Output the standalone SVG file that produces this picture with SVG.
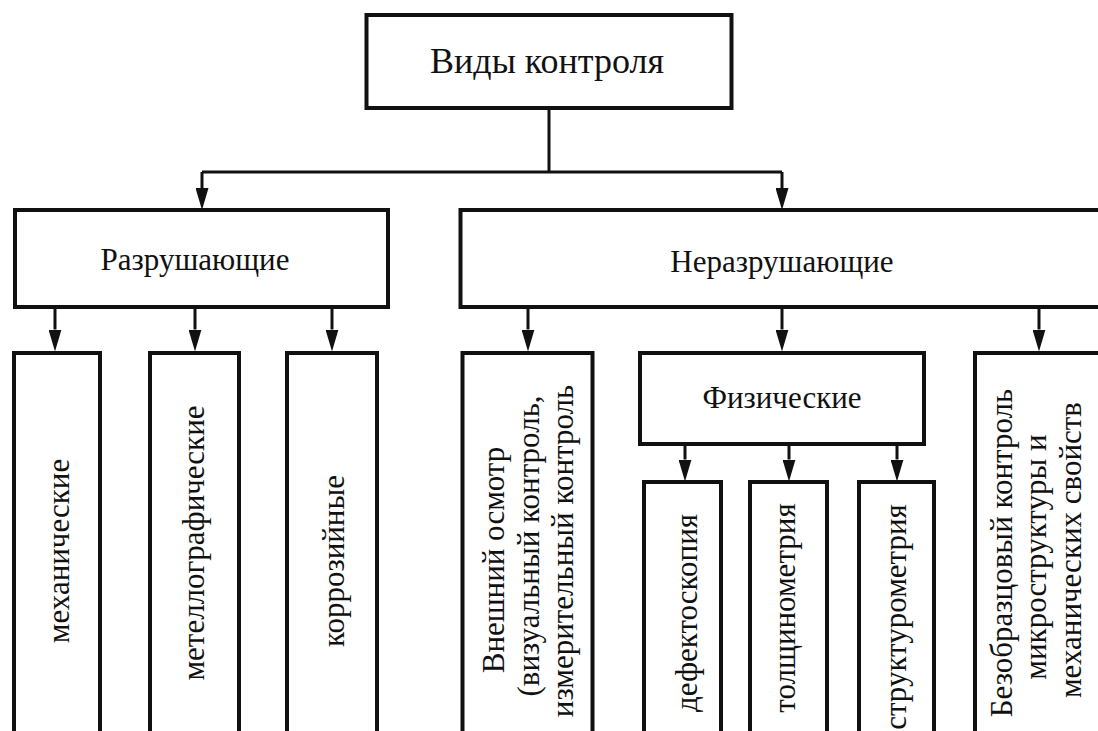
<svg xmlns="http://www.w3.org/2000/svg" width="1098" height="731" viewBox="0 0 1098 731" font-family="'Liberation Serif', 'Times New Roman', Tinos, 'DejaVu Serif', serif">
<defs>
<style>
.box{fill:#fff;stroke:#111;stroke-width:4}
.con{fill:none;stroke:#111;stroke-width:3}
text{font-family:'Liberation Serif','Times New Roman',Tinos,'DejaVu Serif',serif;font-size:31px;fill:#111;text-anchor:middle}
.big{font-size:36px}
</style>
<marker id="ah" viewBox="0 0 22 13" refX="0" refY="6.5" markerWidth="22" markerHeight="13" markerUnits="userSpaceOnUse" orient="auto">
<path d="M0,0 L22,6.5 L0,13 z" fill="#111"/>
</marker>
</defs>
<rect width="1098" height="731" fill="#fff"/>
<g id="connectors">
<path class="con" d="M549,108 V172"/>
<path class="con" d="M202,172 H782"/>
<path class="con" d="M202,172 V188" marker-end="url(#ah)"/>
<path class="con" d="M782,172 V188" marker-end="url(#ah)"/>
<path class="con" d="M55,307 V329.5" marker-end="url(#ah)"/>
<path class="con" d="M195,307 V329.5" marker-end="url(#ah)"/>
<path class="con" d="M332,307 V329.5" marker-end="url(#ah)"/>
<path class="con" d="M528,307 V329.5" marker-end="url(#ah)"/>
<path class="con" d="M782,307 V329.5" marker-end="url(#ah)"/>
<path class="con" d="M1039,307 V329.5" marker-end="url(#ah)"/>
<path class="con" d="M685,444 V459.5" marker-end="url(#ah)"/>
<path class="con" d="M789,444 V459.5" marker-end="url(#ah)"/>
<path class="con" d="M897,444 V459.5" marker-end="url(#ah)"/>
</g>
<g id="root">
<rect class="box" x="366.5" y="15" width="365" height="93"/>
<text class="big" x="547" y="73">Виды контроля</text>
</g>
<g id="destructive">
<rect class="box" x="15" y="210" width="373" height="97"/>
<text x="195" y="270">Разрушающие</text>
</g>
<g id="nondestructive">
<rect class="box" x="460.5" y="210" width="700" height="97"/>
<text x="782" y="272">Неразрушающие</text>
</g>
<g id="mechanical">
<rect class="box" x="14" y="353" width="86" height="420"/>
<text transform="translate(68.5,551) rotate(-90)">механические</text>
</g>
<g id="metallographic">
<rect class="box" x="150" y="353" width="89" height="420"/>
<text transform="translate(204,543) rotate(-90)">метеллографические</text>
</g>
<g id="corrosion">
<rect class="box" x="287" y="353" width="90" height="420"/>
<text transform="translate(344,561) rotate(-90)">коррозийные</text>
</g>
<g id="visual">
<rect class="box" x="462.5" y="353" width="130" height="420"/>
<text transform="translate(504,560) rotate(-90)">Внешний осмотр</text>
<text transform="translate(538.5,546) rotate(-90)">(визуальный контроль,</text>
<text transform="translate(572.5,551) rotate(-90)">измерительный контроль</text>
</g>
<g id="physical">
<rect class="box" x="640" y="353" width="284" height="91"/>
<text x="782" y="408">Физические</text>
</g>
<g id="defectoscopy">
<rect class="box" x="644" y="482" width="77" height="300"/>
<text transform="translate(697,613) rotate(-90)">дефектоскопия</text>
</g>
<g id="thickness">
<rect class="box" x="750" y="482" width="77" height="300"/>
<text transform="translate(795,608) rotate(-90)">толщинометрия</text>
</g>
<g id="structurometry">
<rect class="box" x="859" y="482" width="75" height="300"/>
<text transform="translate(906,617) rotate(-90)">структурометрия</text>
</g>
<g id="sampleless">
<rect class="box" x="975" y="353" width="200" height="420"/>
<text transform="translate(1012,553) rotate(-90)">Безобразцовый контроль</text>
<text transform="translate(1046,557) rotate(-90)">микроструктуры и</text>
<text transform="translate(1081,550) rotate(-90)">механических свойств</text>
</g>
</svg>
